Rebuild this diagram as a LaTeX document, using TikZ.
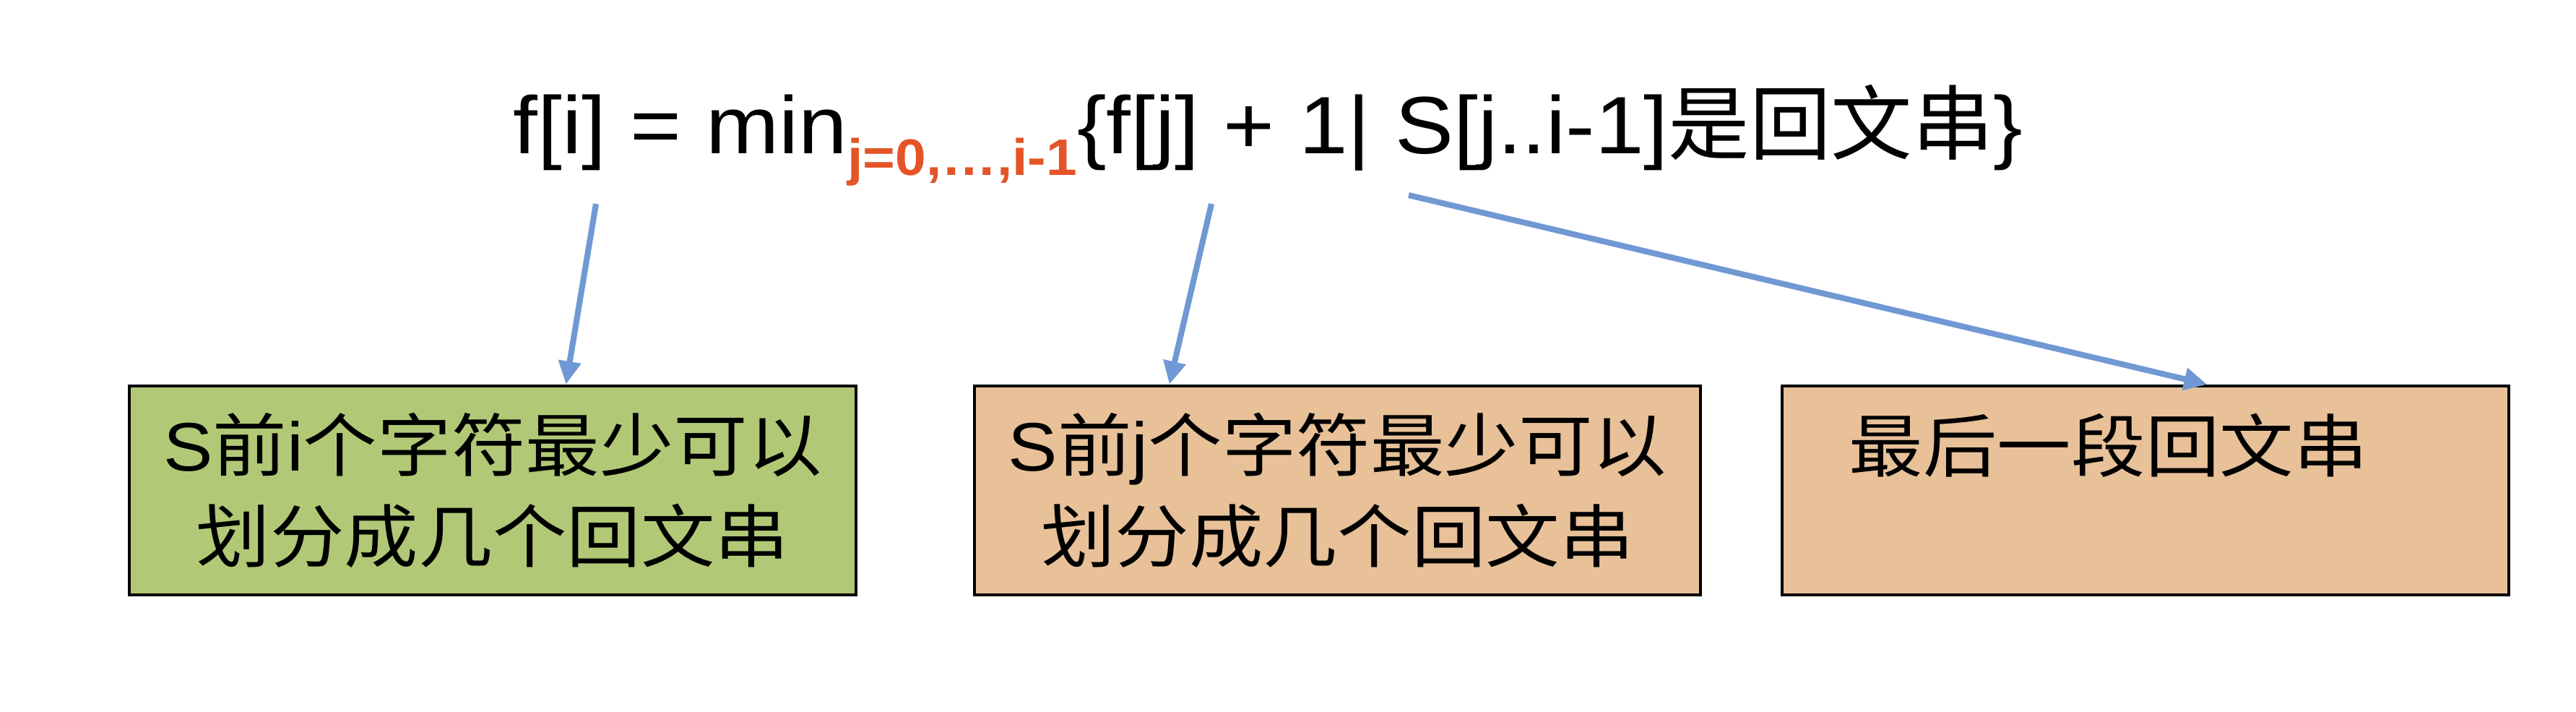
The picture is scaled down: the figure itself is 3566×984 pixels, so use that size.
\documentclass[tikz,border=0pt]{standalone}
\usepackage{fontspec}
\setmainfont{Liberation Sans}[FakeStretch=1.08]
\newfontfamily\cjk{Noto Sans CJK SC}[FakeStretch=1.08]
\newfontfamily\cjkn{Noto Sans CJK SC}
\newcommand{\zh}[1]{{\cjk #1}}
\usetikzlibrary{arrows.meta}
\definecolor{boxgreen}{RGB}{177,201,118}
\definecolor{boxorange}{RGB}{232,193,153}
\definecolor{subred}{RGB}{228,84,40}
\definecolor{arrowblue}{RGB}{112,152,212}

\begin{document}
\begin{tikzpicture}[x=0.01cm, y=-0.01cm,
    box/.style={draw=black, line width=1.2pt, minimum width=10.05cm,
      minimum height=2.89cm, align=center,
      font=\fontsize{27}{35.6}\selectfont},
    link/.style={draw=arrowblue, line width=2.3pt,
      -{Triangle[length=0.32cm,width=0.3cm]}}]
    \useasboundingbox (0,0) rectangle (3566,984);

    \node[anchor=base west, inner sep=0pt, font=\fontsize{32}{38}\selectfont] (eqn) at (710,212)
      {f[i] = min\raisebox{-0.3cm}{\fontsize{20.2}{21}\selectfont\bfseries\color{subred}j=0,…,i-1}\{f[j] + 1| S[j..i-1]{\cjkn 是回文串}\}};

    \node[box, fill=boxgreen] (prefi) at (682,678.5)
      {S\zh{前}i\zh{个字符最少可以}\\\zh{划分成几个回文串}};
    \node[box, fill=boxorange] (prefj) at (1851.5,678.5)
      {S\zh{前}j\zh{个字符最少可以}\\\zh{划分成几个回文串}};
    \node[box, fill=boxorange] (lastseg) at (2970,678.5)
      {\zh{最后一段回文串}\hphantom{\zh{一}}\\\vphantom{\zh{串}}};

    \coordinate (fi) at (825,282);
    \coordinate (fj) at (1677,282);
    \coordinate (pal) at (1950,270);
    \draw[link] (fi) -- ([xshift=6.06cm]prefi.north west);
    \draw[link] (fj) -- ([xshift=2.72cm]prefj.north west);
    \draw[link] (pal) -- ([xshift=5.90cm]lastseg.north west);
  \end{tikzpicture}
\end{document}
